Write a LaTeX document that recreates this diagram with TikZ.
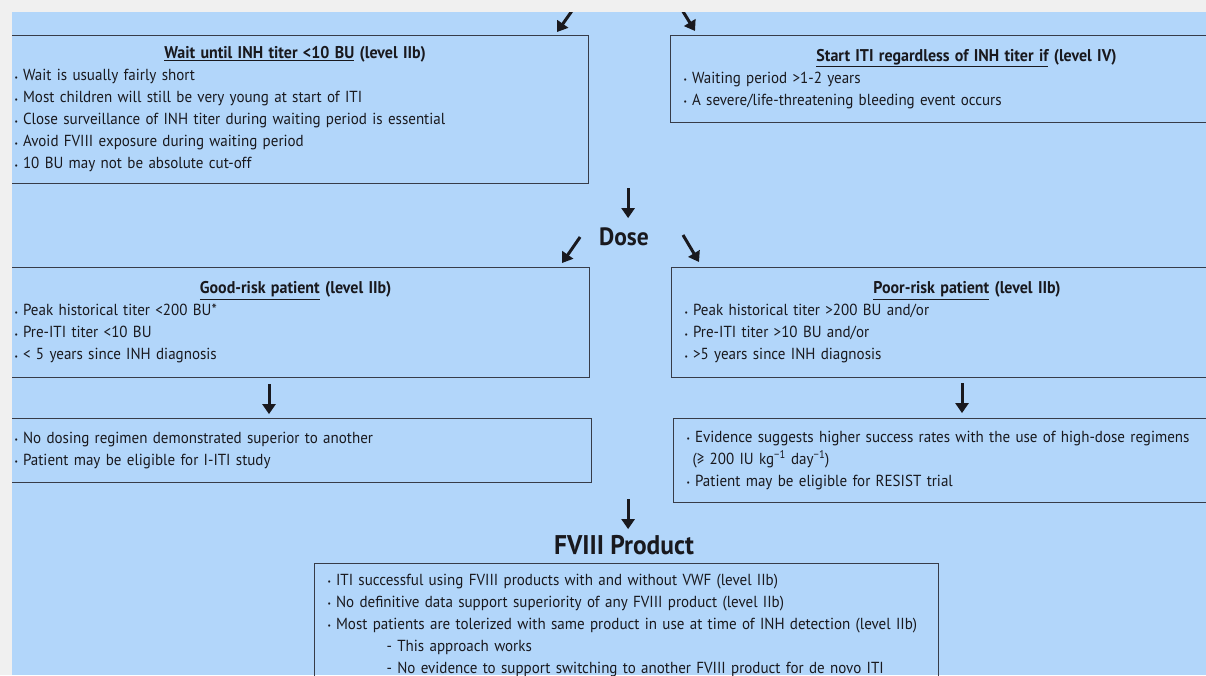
\documentclass[tikz,border=0pt]{standalone}
\usepackage{fontspec}
\setmainfont{PT Sans}[FakeStretch=0.94]
\usepackage{xcolor}
\usepackage{tikz}
\usetikzlibrary{arrows,arrows.meta,positioning,calc}
\definecolor{pagegrey}{RGB}{240, 240, 240}
\definecolor{panelblue}{RGB}{178, 214, 250}
\definecolor{boxline}{RGB}{55, 60, 72}
\definecolor{inkdark}{RGB}{25, 25, 30}

\newcommand{\bul}{\makebox[8.5pt][l]{\raisebox{0.6pt}{\footnotesize\textbullet}}}
\newcommand{\boxhead}[2]{\makebox[\linewidth]{\fontsize{17}{22}\selectfont\textbf{\underline{#1} #2}}}

\tikzset{
  infobox/.style={draw=boxline, line width=1.1pt, anchor=north west, align=left,
    inner xsep=13pt, inner ysep=0pt, text=inkdark,
    font=\fontsize{16}{22}\selectfont},
  flowarrow/.style={-{Triangle[length=10pt,width=13pt]}, line width=3pt, inkdark},
  steplabel/.style={text=inkdark, inner sep=0pt, font=\fontsize{25}{28}\selectfont\bfseries}
}

\begin{document}
\begin{tikzpicture}[x=1pt, y=-1pt]
            \useasboundingbox (0,0) rectangle (1206,675);
            \fill[pagegrey] (0,0) rectangle (1206,675);
            \begin{scope}
            \clip (12,12) rectangle (1206,675);
            \fill[panelblue] (12,12) rectangle (1206,675);

            % Waiting for the titer
            \node[infobox, text width=561pt, minimum height=148pt] (wait) at (1,35) {%
              \boxhead{Wait until INH titer <10 BU}{(level IIb)}\\
              \bul Wait is usually fairly short\\
              \bul Most children will still be very young at start of ITI\\
              \bul Close surveillance of INH titer during waiting period is essential\\
              \bul Avoid FVIII exposure during waiting period\\
              \bul 10 BU may not be absolute cut-off};
            \node[infobox, text width=566pt, minimum height=87pt] (start) at (670,35) {%
              \boxhead{Start ITI regardless of INH titer if}{(level IV)}\\
              \bul Waiting period >1-2 years\\
              \bul A severe/life-threatening bleeding event occurs};

            % Dose
            \node[steplabel] (dose) at (624,237) {Dose};
            \node[infobox, text width=562pt, minimum height=110pt] (good) at (1,267) {%
              \boxhead{Good-risk patient}{(level IIb)}\\
              \bul Peak historical titer <200 BU*\\
              \bul Pre-ITI titer <10 BU\\
              \bul < 5 years since INH diagnosis};
            \node[infobox, text width=565pt, minimum height=110pt] (poor) at (671,267) {%
              \boxhead{Poor-risk patient}{(level IIb)}\\
              \bul Peak historical titer >200 BU and/or\\
              \bul Pre-ITI titer >10 BU and/or\\
              \bul >5 years since INH diagnosis};
            \node[infobox, text width=564pt, minimum height=64pt] (lowdose) at (1,418) {%
              \bul No dosing regimen demonstrated superior to another\\
              \bul Patient may be eligible for I-ITI study};
            \node[infobox, text width=563pt, minimum height=84pt] (highdose) at (673,418) {%
              \bul Evidence suggests higher success rates with the use of high-dose regimens\\
              \hspace*{6pt}(≥ 200 IU kg\textsuperscript{−1} day\textsuperscript{−1})\\
              \bul Patient may be eligible for RESIST trial};

            % FVIII product
            \node[steplabel, font=\fontsize{27}{30}\selectfont\bfseries] (product) at (624,545) {FVIII Product};
            \node[infobox, text width=598pt, minimum height=123pt] (fviii) at (314,563) {%
              \bul ITI successful using FVIII products with and without VWF (level IIb)\\
              \bul No definitive data support superiority of any FVIII product (level IIb)\\
              \bul Most patients are tolerized with same product in use at time of INH detection (level IIb)\\
              \hspace*{59pt}- This approach works\\
              \hspace*{59pt}- No evidence to support switching to another FVIII product for de novo ITI};

            % Arrows
            \draw[flowarrow] ($(wait.north east)+(-13,-30)$) -- ($(wait.north east)+(-32,-3)$);
            \draw[flowarrow] ($(start.north west)+(9,-30)$) -- ($(start.north west)+(25,-4)$);
            \draw[flowarrow] ($(wait.south east)+(39,4)$) -- ($(wait.south east)+(39,34)$);
            \draw[flowarrow] ($(good.north east)+(-10,-30)$) -- ($(good.north east)+(-28,-4)$);
            \draw[flowarrow] ($(poor.north west)+(12,-32)$) -- ($(poor.north west)+(28,-5)$);
            \draw[flowarrow] ($(good.south west)+(268,6)$) -- ($(good.south west)+(268,36)$);
            \draw[flowarrow] ($(poor.south west)+(291,5)$) -- ($(poor.south west)+(291,35)$);
            \draw[flowarrow] ($(lowdose.south east)+(36,16)$) -- ($(lowdose.south east)+(36,46)$);
            \end{scope}
\end{tikzpicture}
\end{document}
